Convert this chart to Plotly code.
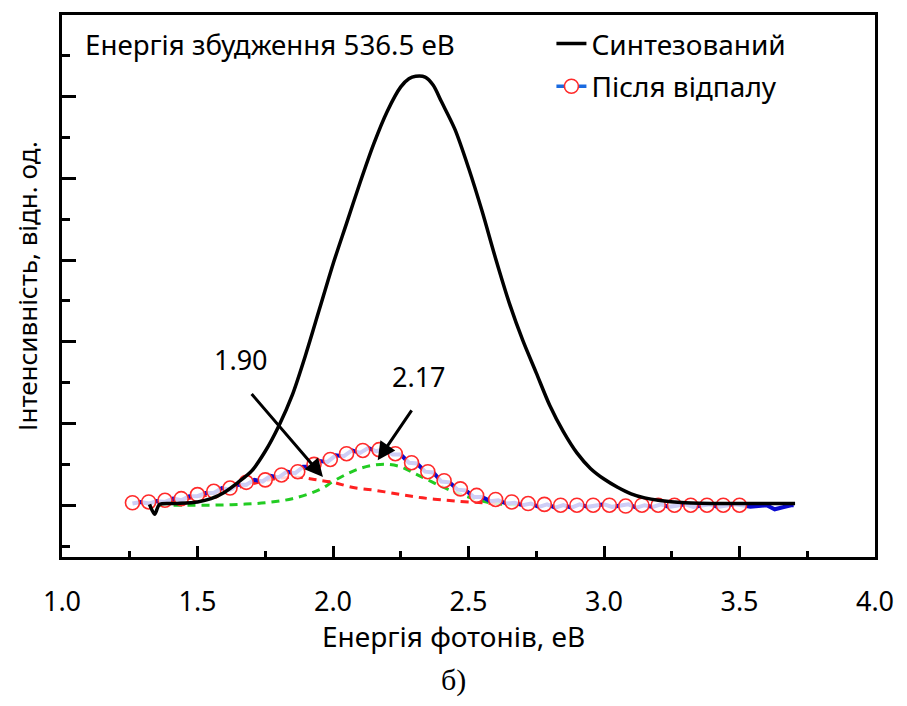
import plotly.graph_objects as go

# ---- data ----
synth_x = [1.323, 1.342, 1.360, 1.42, 1.50, 1.55, 1.60, 1.65, 1.70, 1.75, 1.80, 1.85, 1.90,
           1.95, 2.00, 2.05, 2.10, 2.15, 2.20, 2.25, 2.28, 2.305, 2.34, 2.37, 2.40, 2.45,
           2.50, 2.55, 2.60, 2.65, 2.70, 2.75, 2.80, 2.85, 2.90, 2.95, 3.00, 3.05, 3.10,
           3.15, 3.20, 3.30, 3.45, 3.60, 3.705]
synth_y = [0.01, -0.11, 0.01, 0.02, 0.04, 0.08, 0.16, 0.28, 0.42, 0.66, 0.97, 1.35, 1.85,
           2.40, 2.95, 3.45, 3.95, 4.42, 4.82, 5.12, 5.22, 5.25, 5.24, 5.14, 4.94, 4.60,
           4.13, 3.60, 3.02, 2.48, 2.02, 1.62, 1.22, 0.90, 0.64, 0.45, 0.32, 0.22, 0.14,
           0.09, 0.06, 0.03, 0.02, 0.02, 0.02]

anneal_line_x = [1.26, 1.29, 1.32, 1.35, 1.38, 1.41, 1.44, 1.47, 1.50, 1.53, 1.56, 1.59, 1.62,
                 1.65, 1.68, 1.71, 1.74, 1.77, 1.80, 1.83, 1.86, 1.89, 1.92, 1.95, 1.98, 2.01,
                 2.04, 2.07, 2.10, 2.13, 2.16, 2.19, 2.22, 2.25, 2.28, 2.31, 2.34, 2.37, 2.40,
                 2.43, 2.46, 2.49, 2.52, 2.55, 2.58, 2.61, 2.64, 2.67, 2.70, 2.73, 2.76, 2.79,
                 2.82, 2.85, 2.88, 2.91, 2.94, 2.97, 3.00, 3.03, 3.06, 3.09, 3.12, 3.15, 3.18,
                 3.21, 3.24, 3.27, 3.30, 3.33, 3.36, 3.39, 3.42, 3.45, 3.48, 3.51, 3.54, 3.57,
                 3.60, 3.63, 3.66, 3.69, 3.70]
anneal_line_y = [0.02, 0.04, 0.02, 0.05, 0.04, 0.08, 0.06, 0.11, 0.11, 0.15, 0.15, 0.21, 0.19,
                 0.25, 0.25, 0.31, 0.29, 0.36, 0.34, 0.41, 0.39, 0.47, 0.47, 0.54, 0.53, 0.61,
                 0.60, 0.67, 0.64, 0.70, 0.66, 0.69, 0.62, 0.62, 0.52, 0.51, 0.41, 0.40, 0.29,
                 0.28, 0.19, 0.18, 0.10, 0.10, 0.05, 0.06, 0.02, 0.03, 0.00, 0.02, -0.02, 0.01,
                 -0.03, 0.00, -0.03, 0.01, -0.02, 0.00, 0.01, -0.02, 0.00, 0.01, -0.03, 0.00, -0.02,
                 0.01, -0.02, 0.00, 0.01, -0.02, 0.00, 0.01, -0.02, 0.00, 0.01, 0.00, -0.02, -0.01,
                 0.00, -0.05, -0.02, 0.00, 0.00]

anneal_pts_x = [1.26, 1.32, 1.38, 1.44, 1.50, 1.56, 1.62, 1.68, 1.75, 1.81, 1.87, 1.93, 1.99,
                2.05, 2.11, 2.17, 2.23, 2.29, 2.35, 2.41, 2.47, 2.53, 2.60, 2.66, 2.72, 2.78,
                2.84, 2.90, 2.96, 3.02, 3.08, 3.14, 3.20, 3.26, 3.32, 3.38, 3.44, 3.50]
anneal_pts_y = [0.03, 0.04, 0.06, 0.08, 0.13, 0.17, 0.21, 0.28, 0.31, 0.37, 0.41, 0.50, 0.56,
                0.63, 0.67, 0.68, 0.63, 0.52, 0.41, 0.30, 0.20, 0.12, 0.07, 0.04, 0.02, 0.01,
                0.00, 0.00, 0.00, 0.00, -0.01, 0.00, 0.00, 0.00, 0.00, 0.00, 0.00, 0.00]

peak1_x = [1.30, 1.40, 1.50, 1.60, 1.70, 1.80, 1.88, 1.94, 2.00, 2.07, 2.16, 2.25, 2.33, 2.42, 2.50, 2.60]
peak1_y = [0.02, 0.05, 0.10, 0.17, 0.26, 0.33, 0.34, 0.31, 0.28, 0.22, 0.18, 0.13, 0.09, 0.06, 0.04, 0.02]

peak2_x = [1.36, 1.45, 1.55, 1.65, 1.75, 1.85, 1.95, 2.00, 2.05, 2.10, 2.15, 2.20, 2.25, 2.30,
           2.35, 2.40, 2.45, 2.50, 2.55, 2.60, 2.70]
peak2_y = [0.0, 0.0, 0.0, 0.01, 0.03, 0.08, 0.19, 0.29, 0.38, 0.45, 0.49, 0.50, 0.47, 0.39,
           0.31, 0.23, 0.16, 0.10, 0.05, 0.02, 0.0]

peak_labels = ["1.90", "2.17"]
label_pos_x = [1.659, 2.317]
label_pos_y = [1.78, 1.57]
arrow_head_x = [1.963, 2.165]
arrow_head_y = [0.345, 0.55]
arrow_tail_x = [1.695, 2.294]
arrow_tail_y = [1.38, 1.18]

FONT = "Noto Sans"

fig = go.Figure()

fig.add_trace(go.Scatter(x=peak2_x, y=peak2_y, mode="lines", showlegend=False,
                         line=dict(color="#22cc22", width=3, dash="8px,6px", shape="spline")))
fig.add_trace(go.Scatter(x=peak1_x, y=peak1_y, mode="lines", showlegend=False,
                         line=dict(color="#ff2020", width=3, dash="8px,6px", shape="spline")))
fig.add_trace(go.Scatter(x=anneal_line_x, y=anneal_line_y, mode="lines", showlegend=False,
                         line=dict(color="#0a0ad0", width=4)))
fig.add_trace(go.Scatter(x=anneal_pts_x, y=anneal_pts_y, mode="markers", showlegend=False,
                         marker=dict(symbol="circle", size=14, color="rgba(255,255,255,0.8)",
                                     line=dict(color="#ff2a2a", width=1.6))))
fig.add_trace(go.Scatter(x=synth_x, y=synth_y, mode="lines", name="Синтезований",
                         line=dict(color="black", width=3.5, shape="spline", smoothing=0.8),
                         legend="legend"))
fig.add_trace(go.Scatter(x=[None], y=[None], mode="lines+markers", name="Після відпалу",
                         line=dict(color="#1a6ae0", width=3.5),
                         marker=dict(symbol="circle", size=14, color="white",
                                     line=dict(color="#ff2a2a", width=1.6)),
                         legend="legend2"))

annotations = [
    dict(text="Енергія збудження 536.5 еВ", xref="paper", yref="paper", x=0.026, y=0.9467,
         xanchor="left", yanchor="middle", showarrow=False, font=dict(family=FONT, size=27.7, color="black")),
    dict(text="Енергія фотонів, еВ", xref="paper", yref="paper", x=0.482, y=-0.145,
         xanchor="center", yanchor="middle", showarrow=False, font=dict(family=FONT, size=28, color="black")),
    dict(text="б)", xref="paper", yref="paper", x=0.482, y=-0.227, xanchor="center", yanchor="middle",
         showarrow=False, font=dict(family="Liberation Serif", size=30, color="black")),
]
for t, lx, ly in zip(peak_labels, label_pos_x, label_pos_y):
    annotations.append(dict(text=t, x=lx, y=ly, xref="x", yref="y", showarrow=False,
                            font=dict(family=FONT, size=27, color="black")))
for hx, hy, tx, ty in zip(arrow_head_x, arrow_head_y, arrow_tail_x, arrow_tail_y):
    annotations.append(dict(text="", x=hx, y=hy, ax=tx, ay=ty, xref="x", yref="y", axref="x", ayref="y",
                            showarrow=True, arrowhead=2, arrowsize=1.2, arrowwidth=3, arrowcolor="black"))

fig.update_layout(
    width=907, height=706,
    margin=dict(l=62, r=32, t=13, b=149),
    paper_bgcolor="white", plot_bgcolor="white",
    font=dict(family=FONT, size=26, color="black"),
    annotations=annotations,
    legend=dict(x=0.602, y=0.9467, xanchor="left", yanchor="middle", bgcolor="rgba(0,0,0,0)",
                font=dict(family=FONT, size=28), itemwidth=30),
    legend2=dict(x=0.602, y=0.868, xanchor="left", yanchor="middle", bgcolor="rgba(0,0,0,0)",
                 font=dict(family=FONT, size=28), itemwidth=30),
    xaxis=dict(range=[1.0, 4.0], dtick=0.5, tick0=1.0, tickformat=".1f", ticks="inside",
               ticklen=11, tickwidth=3, tickcolor="black", showline=True, linewidth=2.5,
               linecolor="black", mirror=True, showgrid=False, zeroline=False,
               ticklabelstandoff=19,
               tickfont=dict(family=FONT, size=27),
               minor=dict(dtick=0.25, ticks="inside", ticklen=6, tickwidth=3, tickcolor="black", showgrid=False)),
    yaxis=dict(range=[-0.634, 6.0], dtick=1, tick0=0, ticks="inside", ticklen=14, tickwidth=3,
               tickcolor="black", showticklabels=False, showline=True, linewidth=2.5,
               linecolor="black", mirror=True, showgrid=False, zeroline=False,
               minor=dict(dtick=0.5, ticks="inside", ticklen=8, tickwidth=3, tickcolor="black", showgrid=False),
               title=dict(text="Інтенсивність, відн. од.", font=dict(family=FONT, size=26), standoff=15)),
)

fig.write_html("out.html")
